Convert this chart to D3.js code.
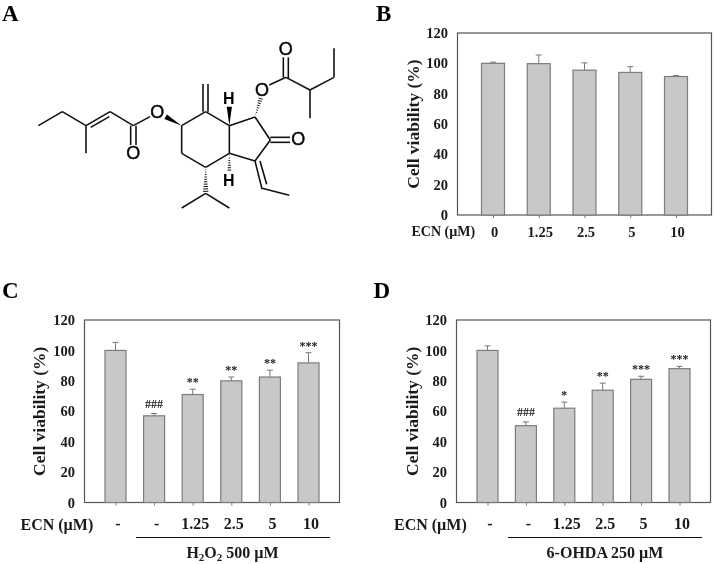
<!DOCTYPE html>
<html>
<head>
<meta charset="utf-8">
<script src="https://cdn.jsdelivr.net/npm/d3@7"></script>
<style>
  html, body { margin: 0; padding: 0; background: #fff; }
  svg { display: block; filter: grayscale(1); }
  text { font-family: "Liberation Serif", serif; font-weight: bold; fill: #1a1a1a; }
</style>
</head>
<body>
<div id="chart"></div>
<script>
// Chart values
const yTicks = [0, 20, 40, 60, 80, 100, 120];

const labelsB = ["0", "1.25", "2.5", "5", "10"];
const valuesB = [100, 99.8, 95.5, 94, 91.3];
const errorsB = [100.8, 105.5, 100.3, 97.8, 92];

const labelsC = ["-", "-", "1.25", "2.5", "5", "10"];
const valuesC = [100, 57, 71, 80, 82.5, 91.8];
const errorsC = [105.3, 58.5, 74.5, 82.5, 87, 98.5];
const marksC = ["", "###", "**", "**", "**", "***"];

const labelsD = ["-", "-", "1.25", "2.5", "5", "10"];
const valuesD = [100, 50.5, 62, 73.8, 81, 88];
const errorsD = [103, 53, 66, 78.5, 83, 89.5];
const marksD = ["", "###", "*", "**", "***", "***"];

const svg = d3.select("#chart").append("svg").attr("width", 714).attr("height", 564);

function renderPanel({ left, right, top, bottom, inset, barWidth, labels, values, errors, marks, tickSize, tickPad, ecnSize, ecnX, ecnY, labelDx, titleX }) {
  const x = d3.scalePoint().domain(d3.range(labels.length)).range([left + inset, right - inset]);
  const y = d3.scaleLinear().domain([0, 120]).range([bottom, top]);
  const g = svg.append("g");

  // frame
  g.append("rect")
    .attr("x", left).attr("y", top)
    .attr("width", right - left).attr("height", bottom - top)
    .attr("fill", "none").attr("stroke", "#555").attr("stroke-width", 1.2);

  // error bars go under the bars
  const err = g.selectAll(".err").data(values).enter().append("g").attr("class", "err");
  err.append("line")
    .attr("x1", (d, i) => x(i)).attr("x2", (d, i) => x(i))
    .attr("y1", (d) => y(d)).attr("y2", (d, i) => y(errors[i]))
    .attr("stroke", "#777").attr("stroke-width", 1);
  err.append("line")
    .attr("x1", (d, i) => x(i) - 3).attr("x2", (d, i) => x(i) + 3)
    .attr("y1", (d, i) => y(errors[i])).attr("y2", (d, i) => y(errors[i]))
    .attr("stroke", "#777").attr("stroke-width", 1);

  g.selectAll(".bar").data(values).enter().append("rect")
    .attr("class", "bar")
    .attr("x", (d, i) => x(i) - barWidth / 2)
    .attr("y", (d) => y(d))
    .attr("width", barWidth)
    .attr("height", (d) => bottom - y(d))
    .attr("fill", "#c8c8c8")
    .attr("stroke", "#7c7c7c")
    .attr("stroke-width", 1.2);

  const yAxis = d3.axisLeft(y).tickValues(yTicks).tickSize(0).tickPadding(9.5);
  const yg = g.append("g").attr("transform", `translate(${left},0)`).call(yAxis);
  yg.select(".domain").remove();
  yg.selectAll("text").style("font-size", "14.5px").style("font-family", "Liberation Serif").attr("fill", "#1a1a1a");

  const xAxis = d3.axisBottom(x).tickSize(3).tickPadding(tickPad).tickFormat((i) => labels[i]);
  const xg = g.append("g").attr("transform", `translate(0,${bottom})`).call(xAxis);
  xg.select(".domain").remove();
  xg.selectAll("line").attr("stroke", "#777");
  xg.selectAll("text")
    .attr("dx", labelDx)
    .style("font-size", `${tickSize}px`)
    .style("font-family", "Liberation Serif")
    .attr("fill", "#1a1a1a");

  g.append("text")
    .attr("x", ecnX).attr("y", ecnY)
    .style("font-size", `${ecnSize}px`)
    .text("ECN (µM)");

  g.append("text")
    .attr("transform", `translate(${titleX},${(top + bottom) / 2}) rotate(-90)`)
    .attr("text-anchor", "middle")
    .attr("dy", "0.32em")
    .style("font-size", "17.5px")
    .text("Cell viability (%)");

  if (marks) {
    g.selectAll(".mark").data(marks).enter().append("text")
      .attr("class", "mark")
      .attr("x", (d, i) => x(i))
      .attr("y", (d, i) => y(errors[i]) - (d === "###" ? 6 : 3))
      .attr("text-anchor", "middle")
      .style("font-size", "12px")
      .text((d) => d);
  }
}

renderPanel({ left: 457.5, right: 711.5, top: 33, bottom: 215, inset: 35.5, barWidth: 23, labels: labelsB, values: valuesB, errors: errorsB, tickSize: 14.5, tickPad: 9, ecnSize: 14, ecnX: 411.5, ecnY: 236, labelDx: 1, titleX: 413 });
renderPanel({ left: 84.5, right: 339.5, top: 320, bottom: 502.5, inset: 31, barWidth: 21, labels: labelsC, values: valuesC, errors: errorsC, marks: marksC, tickSize: 16, tickPad: 12, ecnSize: 16, ecnX: 20.5, ecnY: 529.5, labelDx: 2, titleX: 39 });
renderPanel({ left: 456.5, right: 710.5, top: 320, bottom: 502.5, inset: 31, barWidth: 21, labels: labelsD, values: valuesD, errors: errorsD, marks: marksD, tickSize: 16, tickPad: 12, ecnSize: 16, ecnX: 394, ecnY: 529.5, labelDx: 2, titleX: 412 });

// treatment brackets under C and D
const brackets = [
  { x1: 136, x2: 330, cx: 232.5 },
  { x1: 508, x2: 702, cx: 605 }
];
svg.selectAll(".bracket").data(brackets).enter().append("line")
  .attr("class", "bracket")
  .attr("x1", (d) => d.x1).attr("x2", (d) => d.x2)
  .attr("y1", 537.5).attr("y2", 537.5)
  .attr("stroke", "#111").attr("stroke-width", 1);

const h2o2 = svg.append("text").attr("x", brackets[0].cx).attr("y", 558).attr("text-anchor", "middle").style("font-size", "16px");
h2o2.append("tspan").text("H");
h2o2.append("tspan").text("2").attr("dy", 3).style("font-size", "11px");
h2o2.append("tspan").text("O").attr("dy", -3);
h2o2.append("tspan").text("2").attr("dy", 3).style("font-size", "11px");
h2o2.append("tspan").text(" 500 µM").attr("dy", -3);

svg.append("text").attr("x", brackets[1].cx).attr("y", 558).attr("text-anchor", "middle").style("font-size", "16px").text("6-OHDA 250 µM");

// panel letters
const panelLetters = [
  { t: "A", x: 2, y: 20.5 },
  { t: "B", x: 376, y: 20.5 },
  { t: "C", x: 2, y: 297.5 },
  { t: "D", x: 373.5, y: 297.5 }
];
svg.selectAll(".letter").data(panelLetters).enter().append("text")
  .attr("class", "letter")
  .attr("x", (d) => d.x).attr("y", (d) => d.y)
  .style("font-size", "23px")
  .style("fill", "#000")
  .text((d) => d.t);

// Structure in panel A, in units of a 3x drawing
const mx = d3.scaleLinear().domain([0, 1080]).range([0, 360]);
const my = d3.scaleLinear().domain([0, 780]).range([0, 260]);

const bonds = [
  [115, 377, 187, 335], [187, 335, 258, 377], [258, 377, 258, 460], [258, 377, 330, 335],
  [272, 382, 328, 350], [330, 335, 400, 377], [392, 377, 392, 435], [408, 377, 408, 435],
  [400, 377, 450, 350],
  [545, 377, 617, 335], [617, 335, 688, 377], [688, 377, 688, 460], [688, 460, 617, 502],
  [617, 502, 545, 460], [545, 460, 545, 377],
  [609, 335, 609, 252], [624, 335, 624, 252],
  [688, 377, 765, 351], [765, 351, 811, 420], [811, 420, 765, 483], [765, 483, 688, 460],
  [811, 412, 870, 412], [811, 427, 870, 427],
  [765, 483, 786, 567], [780, 483, 800, 553], [786, 565, 868, 586],
  [808, 255, 858, 232], [850, 232, 850, 172], [865, 236, 865, 172],
  [858, 232, 930, 270], [930, 270, 1002, 232], [1002, 232, 1002, 145], [930, 270, 930, 355],
  [617, 580, 545, 624], [617, 580, 688, 624]
];
const solidWedges = [
  [545, 377, 497, 350],
  [688, 377, 688, 320]
];
const hashWedges = [
  [765, 351, 782, 295],
  [688, 460, 688, 515],
  [617, 502, 617, 578]
];
const atoms = [
  { t: "O", x: 400, y: 458 }, { t: "O", x: 472, y: 335 }, { t: "H", x: 686, y: 295 },
  { t: "H", x: 686, y: 542 }, { t: "O", x: 895, y: 415 }, { t: "O", x: 786, y: 268 },
  { t: "O", x: 857, y: 145 }
];

const mol = svg.append("g");
mol.selectAll(".bond").data(bonds).enter().append("line")
  .attr("class", "bond")
  .attr("x1", (d) => mx(d[0])).attr("y1", (d) => my(d[1]))
  .attr("x2", (d) => mx(d[2])).attr("y2", (d) => my(d[3]))
  .attr("stroke", "#111").attr("stroke-width", 1.6);

mol.selectAll(".wedge").data(solidWedges).enter().append("path")
  .attr("class", "wedge")
  .attr("fill", "#000")
  .attr("d", (d) => {
    const [x0, y0, x1, y1] = [mx(d[0]), my(d[1]), mx(d[2]), my(d[3])];
    const len = Math.hypot(x1 - x0, y1 - y0);
    const nx = -(y1 - y0) / len * 2.6;
    const ny = (x1 - x0) / len * 2.6;
    return d3.line()([[x0, y0], [x1 + nx, y1 + ny], [x1 - nx, y1 - ny]]) + "Z";
  });

hashWedges.forEach((d) => {
  const [x0, y0, x1, y1] = [mx(d[0]), my(d[1]), mx(d[2]), my(d[3])];
  const len = Math.hypot(x1 - x0, y1 - y0);
  const steps = d3.range(1, Math.floor(len / 2.4) + 1);
  mol.selectAll(null).data(steps).enter().append("line")
    .attr("x1", (s) => x0 + (x1 - x0) * s * 2.4 / len - (y1 - y0) / len * s * 0.27)
    .attr("y1", (s) => y0 + (y1 - y0) * s * 2.4 / len + (x1 - x0) / len * s * 0.27)
    .attr("x2", (s) => x0 + (x1 - x0) * s * 2.4 / len + (y1 - y0) / len * s * 0.27)
    .attr("y2", (s) => y0 + (y1 - y0) * s * 2.4 / len - (x1 - x0) / len * s * 0.27)
    .attr("stroke", "#111").attr("stroke-width", 1);
});

mol.selectAll(".atom").data(atoms).enter().append("text")
  .attr("class", "atom")
  .attr("x", (d) => mx(d.x)).attr("y", (d) => my(d.y))
  .attr("dy", "0.36em")
  .attr("text-anchor", "middle")
  .style("font-family", "Liberation Sans")
  .style("font-size", (d) => (d.t === "H" ? "16px" : "18px"))
  .style("font-weight", (d) => (d.t === "H" ? "bold" : "normal"))
  .style("fill", "#000")
  .style("stroke", "#000")
  .style("stroke-width", (d) => (d.t === "H" ? 0 : 0.4))
  .text((d) => d.t);
</script>
</body>
</html>
